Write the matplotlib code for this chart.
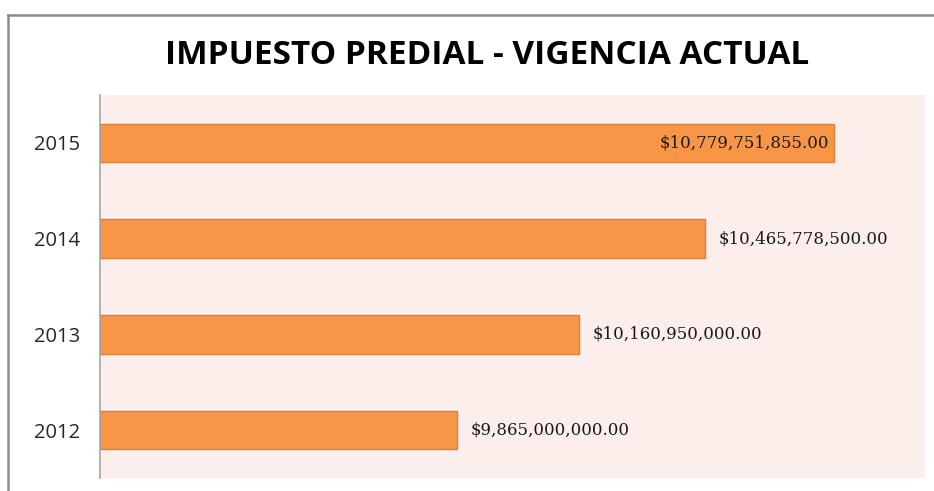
import matplotlib
matplotlib.use("Agg")
import matplotlib.pyplot as plt
from matplotlib.lines import Line2D

# Data
years = ["2012", "2013", "2014", "2015"]
amounts = [9865000000.00, 10160950000.00, 10465778500.00, 10779751855.00]
title = "IMPUESTO PREDIAL - VIGENCIA ACTUAL"

bar_color = "#F79646"
edge_color = "#D9823F"
plot_bg = "#FCEEEA"

fig = plt.figure(figsize=(9.34, 4.91), dpi=100)
ax = fig.add_axes([100 / 934, 1 - 478 / 491, 825 / 934, 383 / 491])
ax.set_facecolor(plot_bg)

ypos = list(range(len(years)))
ax.barh(ypos, amounts, height=0.4, color=bar_color, edgecolor=edge_color,
        linewidth=1.0, zorder=2)

ax.set_xlim(9.0e9, 11.0e9)
ax.set_ylim(-0.5, len(years) - 0.5)
ax.set_xticks([])
ax.set_yticks(ypos)
ax.set_yticklabels(years, fontfamily="Open Sans", fontsize=14.5, color="#262626")
ax.tick_params(axis="y", length=0, pad=14)

for side in ["top", "right", "bottom"]:
    ax.spines[side].set_visible(False)
ax.spines["left"].set_color("#A6A6A6")
ax.spines["left"].set_linewidth(1.2)

# value labels: the longest bar gets its label inside, the others outside
for y, v in zip(ypos, amounts):
    label = "${:,.2f}".format(v)
    if v == max(amounts):
        ax.annotate(label, (v, y), xytext=(-5, 0), textcoords="offset pixels",
                    ha="right", va="center", fontsize=12,
                    fontfamily="DejaVu Serif", color="#1a1a1a", zorder=3)
    else:
        ax.annotate(label, (v, y), xytext=(14, 0), textcoords="offset pixels",
                    ha="left", va="center", fontsize=12,
                    fontfamily="DejaVu Serif", color="#1a1a1a", zorder=3)

fig.text(487 / 934, 1 - 56 / 491, title, ha="center", va="center",
         fontfamily="Open Sans", fontweight="bold", fontsize=24, color="black")

# outer chart border (top and left edges visible)
fig.add_artist(Line2D([8 / 934, 1.0], [1 - 15 / 491, 1 - 15 / 491],
                      transform=fig.transFigure, color="#8C8C8C", lw=1.8))
fig.add_artist(Line2D([8 / 934, 8 / 934], [0.0, 1 - 15 / 491],
                      transform=fig.transFigure, color="#8C8C8C", lw=1.8))

fig.savefig("out.png", dpi=100)
plt.close(fig)
